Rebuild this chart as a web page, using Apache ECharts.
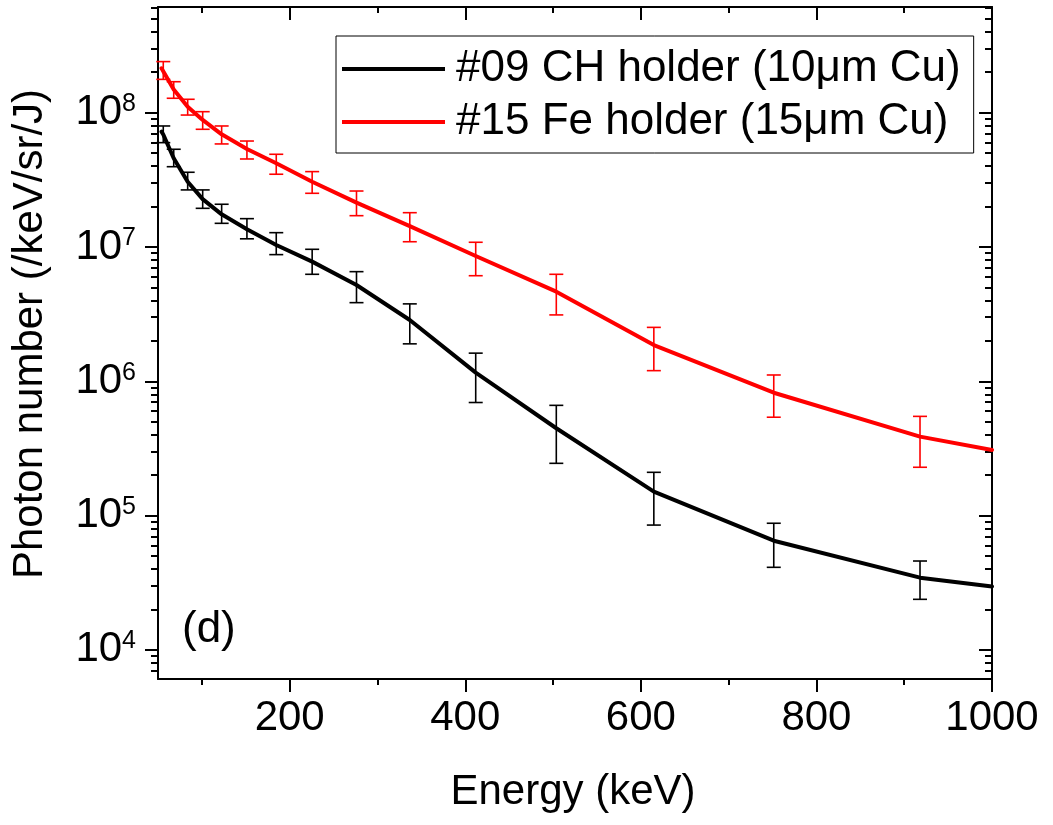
<!DOCTYPE html>
<html><head><meta charset="utf-8">
<script src="https://cdn.jsdelivr.net/npm/echarts@6/dist/echarts.min.js"></script>
<style>html,body{margin:0;padding:0;background:#fff}#c{width:1053px;height:825px}</style>
</head><body><div id="c"></div>
<script>
// ---- data ----
const energies = [56.0, 67.9, 83.8, 100.9, 122.5, 151.3, 184.7, 225.6, 276.1, 336.8, 411.9, 503.7, 614.8, 751.4, 918.0];

const ch09Value = [6.88e7, 4.58e7, 3.06e7, 2.27e7, 1.75e7, 1.355e7, 1.035e7, 7.78e6, 5.21e6, 2.86e6, 1.16e6, 4.47e5, 1.51e5, 6.5e4, 3.45e4];
const ch09Low   = [5.98e7, 3.96e7, 2.66e7, 1.94e7, 1.50e7, 1.15e7, 8.77e6, 6.26e6, 3.85e6, 1.90e6, 6.95e5, 2.45e5, 8.5e4, 4.12e4, 2.38e4];
const ch09High  = [7.96e7, 5.34e7, 3.60e7, 2.66e7, 2.08e7, 1.625e7, 1.278e7, 9.61e6, 6.55e6, 3.77e6, 1.62e6, 6.62e5, 2.10e5, 8.77e4, 4.59e4];

const fe15Value = [2.10e8, 1.49e8, 1.108e8, 8.83e7, 6.90e7, 5.37e7, 4.20e7, 3.06e7, 2.14e7, 1.43e7, 8.57e6, 4.65e6, 1.86e6, 8.22e5, 3.87e5];
const fe15Low   = [1.77e8, 1.28e8, 9.6e7, 7.52e7, 5.85e7, 4.52e7, 3.48e7, 2.51e7, 1.71e7, 1.094e7, 6.11e6, 3.12e6, 1.20e6, 5.40e5, 2.29e5];
const fe15High  = [2.40e8, 1.70e8, 1.258e8, 1.017e8, 7.96e7, 6.15e7, 4.90e7, 3.64e7, 2.61e7, 1.80e7, 1.084e7, 6.26e6, 2.52e6, 1.114e6, 5.48e5];

const lineStartEnergy = 54;
const lineEndEnergy = 1000;
const ch09Start = 7.22e7, ch09End = 2.96e4;
const fe15Start = 2.14e8, fe15End = 3.08e5;

const seriesNames = ['#09 CH holder (10μm Cu)', '#15 Fe holder (15μm Cu)'];
const xMajorTicks = [200, 400, 600, 800, 1000];
const xMinorTicks = [100, 300, 500, 700, 900];
const yMajorTicks = [1e4, 1e5, 1e6, 1e7, 1e8];
const yMinorTicks = [7e3, 8e3, 9e3,
  2e4, 3e4, 4e4, 5e4, 6e4, 7e4, 8e4, 9e4,
  2e5, 3e5, 4e5, 5e5, 6e5, 7e5, 8e5, 9e5,
  2e6, 3e6, 4e6, 5e6, 6e6, 7e6, 8e6, 9e6,
  2e7, 3e7, 4e7, 5e7, 6e7, 7e7, 8e7, 9e7,
  2e8, 3e8, 4e8, 5e8, 6e8];

// ---- chart ----
const FONT = 'Liberation Sans, Arial, Helvetica, sans-serif';
const X_MIN = 50, X_MAX = 1000, Y_MIN = 6072, Y_MAX = 6.12e8;
const chart = echarts.init(document.getElementById('c'));

function lineData(start, vals, end) {
  const d = [[lineStartEnergy, start]];
  energies.forEach((e, i) => d.push([e, vals[i]]));
  d.push([lineEndEnergy, end]);
  return d;
}
function errData(lo, hi) { return energies.map((e, i) => [e, lo[i], hi[i]]); }
function errRender(color) {
  return function (params, api) {
    const x = api.value(0), lo = api.value(1), hi = api.value(2);
    const p1 = api.coord([x, lo]), p2 = api.coord([x, hi]);
    const hw = 7;
    const style = { stroke: color, lineWidth: 1.6 };
    return { type: 'group', children: [
      { type: 'line', shape: { x1: p1[0], y1: p1[1], x2: p2[0], y2: p2[1] }, style },
      { type: 'line', shape: { x1: p1[0] - hw, y1: p1[1], x2: p1[0] + hw, y2: p1[1] }, style },
      { type: 'line', shape: { x1: p2[0] - hw, y1: p2[1], x2: p2[0] + hw, y2: p2[1] }, style }
    ]};
  };
}

const axisLineStyle = { color: '#000', width: 2 };
function xAx(position, ticks, len, inside, labels, showLine) {
  return {
    type: 'value', min: X_MIN, max: X_MAX, position,
    splitLine: { show: false },
    axisLine: { show: showLine, lineStyle: axisLineStyle },
    axisTick: { show: true, customValues: ticks, length: len, inside, lineStyle: { color: '#000', width: 2 } },
    axisLabel: labels ? { show: true, customValues: ticks, fontSize: 42, fontFamily: FONT, color: '#000', margin: 18,
      formatter: v => String(v) } : { show: false }
  };
}
function yAx(position, ticks, len, inside, labels, showLine) {
  return {
    type: 'log', logBase: 10, min: Y_MIN, max: Y_MAX, position,
    splitLine: { show: false },
    axisLine: { show: showLine, lineStyle: axisLineStyle },
    axisTick: { show: true, customValues: ticks, length: len, inside, lineStyle: { color: '#000', width: 2 } },
    axisLabel: labels ? {
      show: true, customValues: ticks, margin: 22, color: '#000',
      formatter: v => '{a|10}{b|' + Math.round(Math.log10(v)) + '}',
      rich: {
        a: { fontSize: 42, lineHeight: 42, fontFamily: FONT, color: '#000' },
        b: { fontSize: 25, lineHeight: 19, fontFamily: FONT, color: '#000', verticalAlign: 'top' }
      }
    } : { show: false }
  };
}

chart.setOption({
  animation: false,
  backgroundColor: '#fff',
  grid: { left: 158, top: 7, width: 834, height: 672, containLabel: false },
  xAxis: [
    xAx('bottom', xMajorTicks, 13, false, true, true),
    xAx('bottom', xMinorTicks, 6, false, false, false),
    xAx('top', xMajorTicks, 13, true, false, true),
    xAx('top', xMinorTicks, 6, true, false, false)
  ],
  yAxis: [
    yAx('left', yMajorTicks, 13, false, true, true),
    yAx('left', yMinorTicks, 7, false, false, false),
    yAx('right', yMajorTicks, 13, true, false, true),
    yAx('right', yMinorTicks, 7, true, false, false)
  ],
  legend: {
    orient: 'vertical', left: 336, top: 36,
    data: [{ name: seriesNames[0], icon: 'rect' }, { name: seriesNames[1], icon: 'rect' }],
    itemWidth: 103, itemHeight: 4, itemGap: 9,
    padding: [11, 13, 9, 6],
    borderColor: '#000', borderWidth: 1,
    textStyle: { fontSize: 44, fontFamily: FONT, color: '#000', padding: [0, 0, 0, 6] },
    selectedMode: false
  },
  series: [
    { name: 'err09', type: 'custom', renderItem: errRender('#000'), data: errData(ch09Low, ch09High), encode: { x: 0, y: [1, 2] }, z: 1 },
    { name: 'err15', type: 'custom', renderItem: errRender('#ff0000'), data: errData(fe15Low, fe15High), encode: { x: 0, y: [1, 2] }, z: 1 },
    { name: seriesNames[0], type: 'line', data: lineData(ch09Start, ch09Value, ch09End), showSymbol: false, symbol: 'none',
      smooth: false, color: '#000', lineStyle: { color: '#000', width: 4, join: 'round', cap: 'round' }, z: 3 },
    { name: seriesNames[1], type: 'line', data: lineData(fe15Start, fe15Value, fe15End), showSymbol: false, symbol: 'none',
      smooth: false, color: '#ff0000', lineStyle: { color: '#ff0000', width: 4, join: 'round', cap: 'round' }, z: 3 }
  ],
  graphic: [
    { type: 'text', x: 573, y: 792, style: { text: 'Energy (keV)', font: '42px ' + FONT, fill: '#000', textAlign: 'center', textVerticalAlign: 'middle' } },
    { type: 'text', x: 30, y: 334, rotation: Math.PI / 2, style: { text: 'Photon number (/keV/sr/J)', font: '42px ' + FONT, fill: '#000', textAlign: 'center', textVerticalAlign: 'middle' } },
    { type: 'text', x: 182, y: 630, style: { text: '(d)', font: '44px ' + FONT, fill: '#000', textAlign: 'left', textVerticalAlign: 'middle' } }
  ]
});
</script></body></html>
